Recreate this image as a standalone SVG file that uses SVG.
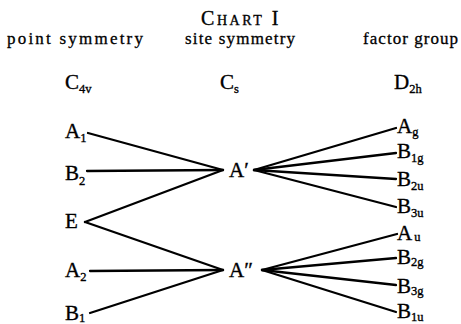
<svg xmlns="http://www.w3.org/2000/svg" width="461" height="324" viewBox="0 0 461 324" font-family="'Liberation Serif', 'DejaVu Serif', serif">
<style>
text{font-family:'Liberation Serif','DejaVu Serif',serif;fill:#000;stroke:#000;stroke-width:0.35}
.lbl{font-size:21px}
.sub{font-size:12.5px}
.hdr{font-size:17px;stroke-width:0.3}
.title{font-size:20px;letter-spacing:2.5px;font-variant:small-caps}
.conn line{stroke:#000;stroke-width:2.3;stroke-linecap:round}
</style>
<rect width="461" height="324" fill="#fff"/>
<g id="title"><text class="title" x="241" y="25" text-anchor="middle">Chart I</text></g>
<g id="headers">
<text class="hdr" x="7" y="44" textLength="136">point symmetry</text>
<text class="hdr" x="185" y="44" textLength="110">site symmetry</text>
<text class="hdr" x="363" y="44" textLength="95">factor group</text>
<text class="lbl" x="65" y="89">C<tspan class="sub" dy="4">4v</tspan></text>
<text class="lbl" x="220" y="89">C<tspan class="sub" dy="4">s</tspan></text>
<text class="lbl" x="394" y="89">D<tspan class="sub" dy="4">2h</tspan></text>
</g>
<g class="conn" id="connectors">
<line x1="88" y1="133" x2="223" y2="170"/>
<line x1="87" y1="171" x2="223" y2="170"/>
<line x1="85" y1="222" x2="223" y2="170"/>
<line x1="85" y1="222" x2="223" y2="270"/>
<line x1="90" y1="271" x2="223" y2="270"/>
<line x1="90" y1="313" x2="223" y2="270"/>
<line x1="254" y1="170" x2="396" y2="128"/>
<line x1="254" y1="170" x2="396" y2="153"/>
<line x1="254" y1="170" x2="396" y2="179"/>
<line x1="254" y1="170" x2="396" y2="207"/>
<line x1="262" y1="270" x2="397" y2="234"/>
<line x1="262" y1="270" x2="396" y2="258"/>
<line x1="262" y1="270" x2="396" y2="285"/>
<line x1="262" y1="270" x2="396" y2="312"/>
</g>
<g id="A1"><text class="lbl" x="65" y="138">A<tspan class="sub" dy="4">1</tspan></text></g>
<g id="B2"><text class="lbl" x="65" y="180">B<tspan class="sub" dy="5">2</tspan></text></g>
<g id="E"><text class="lbl" x="65" y="228">E</text></g>
<g id="A2"><text class="lbl" x="65" y="277">A<tspan class="sub" dy="4">2</tspan></text></g>
<g id="B1"><text class="lbl" x="65" y="320">B<tspan class="sub" dy="2">1</tspan></text></g>
<g id="Aprime"><text class="lbl" x="229" y="177">A′</text></g>
<g id="Adprime"><text class="lbl" x="229" y="277">A″</text></g>
<g id="Ag"><text class="lbl" x="397" y="133">A<tspan class="sub" dy="3">g</tspan></text></g>
<g id="B1g"><text class="lbl" x="397" y="158">B<tspan class="sub" dy="4">1g</tspan></text></g>
<g id="B2u"><text class="lbl" x="397" y="186">B<tspan class="sub" dy="4">2u</tspan></text></g>
<g id="B3u"><text class="lbl" x="397" y="213">B<tspan class="sub" dy="4">3u</tspan></text></g>
<g id="Au"><text class="lbl" x="397" y="240">A<tspan class="sub" dx="2" dy="1">u</tspan></text></g>
<g id="B2g"><text class="lbl" x="397" y="264">B<tspan class="sub" dy="2">2g</tspan></text></g>
<g id="B3g"><text class="lbl" x="397" y="293">B<tspan class="sub" dy="2">3g</tspan></text></g>
<g id="B1u"><text class="lbl" x="397" y="318">B<tspan class="sub" dy="3">1u</tspan></text></g>
</svg>
